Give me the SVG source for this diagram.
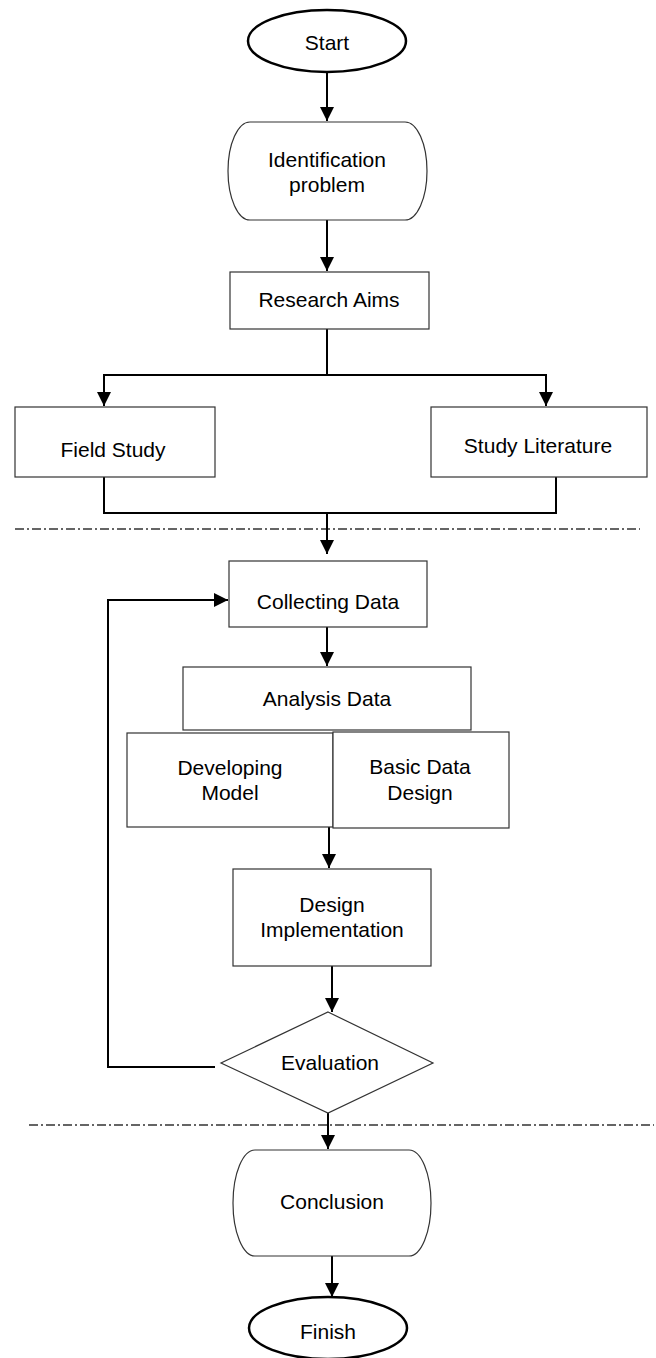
<svg xmlns="http://www.w3.org/2000/svg" width="656" height="1358" viewBox="0 0 656 1358">
<style>
.box{fill:#fff;stroke:#333;stroke-width:1.2}
.term{fill:#fff;stroke:#000;stroke-width:2.5}
.t{font-family:"Liberation Sans",Arial,sans-serif;font-size:21px;fill:#000;text-anchor:middle}
.c{fill:none;stroke:#000;stroke-width:2}
.dd{fill:none;stroke:#333;stroke-width:1.5;stroke-dasharray:9 3 2 3}
</style>
<defs>
<marker id="ah" markerUnits="userSpaceOnUse" markerWidth="14" markerHeight="14" refX="14" refY="7" orient="auto">
<path d="M0,0 L14,7 L0,14 z" fill="#000"/>
</marker>
</defs>
<rect width="656" height="1358" fill="#fff"/>
<g id="separators">
<line class="dd" x1="15" y1="529" x2="640" y2="529"/>
<line class="dd" x1="29" y1="1125" x2="654" y2="1125"/>
</g>
<g id="connectors">
<path class="c" d="M327,72 V121" marker-end="url(#ah)"/>
<path class="c" d="M327,220 V271" marker-end="url(#ah)"/>
<path class="c" d="M327,329 V375"/>
<path class="c" d="M327,375 H104 V406" marker-end="url(#ah)"/>
<path class="c" d="M327,375 H546 V406" marker-end="url(#ah)"/>
<path class="c" d="M104,477 V513 H556 V477"/>
<path class="c" d="M327,513 V554" marker-end="url(#ah)"/>
<path class="c" d="M327,627 V666" marker-end="url(#ah)"/>
<path class="c" d="M329,827 V868" marker-end="url(#ah)"/>
<path class="c" d="M332,966 V1012" marker-end="url(#ah)"/>
<path class="c" d="M215,1067 H108 V600 H228" marker-end="url(#ah)"/>
<path class="c" d="M328,1113 V1149" marker-end="url(#ah)"/>
<path class="c" d="M332,1256 V1297" marker-end="url(#ah)"/>
</g>
<g id="start">
<ellipse class="term" cx="327" cy="41" rx="79" ry="31"/>
<text class="t" x="327" y="50">Start</text>
</g>
<g id="identification">
<rect class="box" x="228" y="122" width="199" height="98" rx="22" ry="49"/>
<text class="t" x="327" y="167">Identification</text>
<text class="t" x="327" y="192">problem</text>
</g>
<g id="research-aims">
<rect class="box" x="230" y="272" width="199" height="57"/>
<text class="t" x="329" y="307">Research Aims</text>
</g>
<g id="field-study">
<rect class="box" x="15" y="407" width="200" height="70"/>
<text class="t" x="113" y="457">Field Study</text>
</g>
<g id="study-literature">
<rect class="box" x="431" y="407" width="216" height="70"/>
<text class="t" x="538" y="453">Study Literature</text>
</g>
<g id="collecting-data">
<rect class="box" x="229" y="561" width="198" height="66"/>
<text class="t" x="328" y="609">Collecting Data</text>
</g>
<g id="analysis-data">
<rect class="box" x="183" y="667" width="288" height="63"/>
<text class="t" x="327" y="706">Analysis Data</text>
</g>
<g id="developing-model">
<rect class="box" x="127" y="733" width="206" height="94"/>
<text class="t" x="230" y="775">Developing</text>
<text class="t" x="230" y="800">Model</text>
</g>
<g id="basic-data-design">
<rect class="box" x="333" y="732" width="176" height="96"/>
<text class="t" x="420" y="774">Basic Data</text>
<text class="t" x="420" y="800">Design</text>
</g>
<g id="design-implementation">
<rect class="box" x="233" y="869" width="198" height="97"/>
<text class="t" x="332" y="912">Design</text>
<text class="t" x="332" y="937">Implementation</text>
</g>
<g id="evaluation">
<polygon class="box" points="328,1012 433,1063 328,1113 221,1063"/>
<text class="t" x="330" y="1070">Evaluation</text>
</g>
<g id="conclusion">
<rect class="box" x="233" y="1150" width="198" height="106" rx="22" ry="53"/>
<text class="t" x="332" y="1209">Conclusion</text>
</g>
<g id="finish">
<ellipse class="term" cx="328" cy="1328" rx="79" ry="31"/>
<text class="t" x="328" y="1339">Finish</text>
</g>
</svg>
